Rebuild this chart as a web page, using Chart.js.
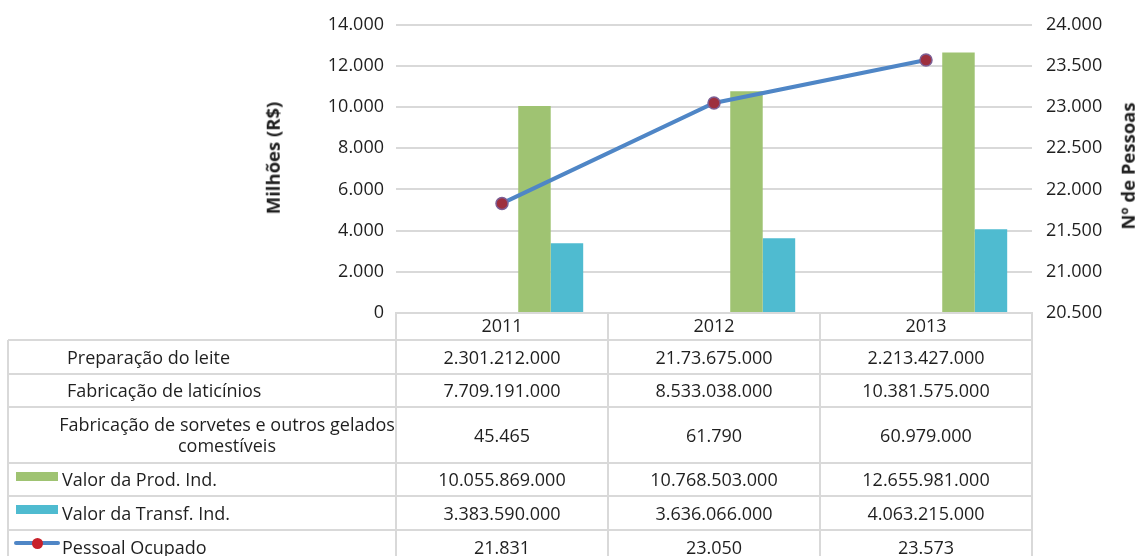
<!DOCTYPE html>
<html><head><meta charset="utf-8">
<script src="https://cdn.jsdelivr.net/npm/chart.js@4.4.0/dist/chart.umd.min.js"></script>
<style>
html,body{margin:0;padding:0;background:#fff;overflow:hidden}
#wrap{position:relative;width:1137px;height:556px;overflow:hidden;font-family:'Open Sans',sans-serif;color:#1f1f1f}
#c{position:absolute;left:0;top:0}
.hl{position:absolute;height:2px;background:#d9d9d9}
.vl{position:absolute;width:2px;background:#d9d9d9}
.cell{position:absolute;display:flex;align-items:center;justify-content:center;font-size:18px;white-space:nowrap;line-height:21px}
.lab{justify-content:flex-start}
.key{position:absolute}
.vt{position:absolute;font-size:18.5px;font-weight:bold;white-space:nowrap;transform:translate(-50%,-50%) rotate(-90deg);line-height:1}
</style>
</head><body>
<div id="wrap"><canvas id="c" width="1137" height="556"></canvas></div>
<script>
// ---- data ----
const years = ['2011', '2012', '2013'];
const prodInd = [10055.869, 10768.503, 12655.981];      // Valor da Prod. Ind. (milhões R$)
const transfInd = [3383.590, 3636.066, 4063.215];       // Valor da Transf. Ind. (milhões R$)
const pessoal = [21831, 23050, 23573];                  // Pessoal Ocupado
const prepLeite = [2301.212, 2173.675, 2213.427];       // (no visible bars)
const fabLaticinios = [7709.191, 8533.038, 10381.575];  // (no visible bars)
const fabSorvetes = [0.045465, 0.061790, 60.979];       // (no visible bars)
const prepLeiteTxt = ['2.301.212.000', '21.73.675.000', '2.213.427.000'];
const fabLaticiniosTxt = ['7.709.191.000', '8.533.038.000', '10.381.575.000'];
const fabSorvetesTxt = ['45.465', '61.790', '60.979.000'];
const prodIndTxt = ['10.055.869.000', '10.768.503.000', '12.655.981.000'];
const transfIndTxt = ['3.383.590.000', '3.636.066.000', '4.063.215.000'];
const pessoalTxt = ['21.831', '23.050', '23.573'];
const leftTitle = 'Milhões (R$)';
const rightTitle = 'Nº de Pessoas';

const GREEN = '#9fc372', CYAN = '#4fbbd0', BLUE = '#4f86c6', MRED = '#9e2f3e', MEDGE = '#7d5f95';
const GRID = '#d9d9d9', TXT = '#1f1f1f';

function fmt(v) { return String(v).replace(/\B(?=(\d{3})+(?!\d))/g, '.'); }

Chart.defaults.font.family = "'Open Sans', sans-serif";
Chart.defaults.font.size = 18;
Chart.defaults.color = TXT;

const chart = new Chart(document.getElementById('c'), {
  data: {
    labels: years,
    datasets: [
      { type: 'bar', label: 'Preparação do leite', data: prepLeite, backgroundColor: 'rgba(0,0,0,0)', yAxisID: 'y', order: 2 },
      { type: 'bar', label: 'Fabricação de laticínios', data: fabLaticinios, backgroundColor: 'rgba(0,0,0,0)', yAxisID: 'y', order: 2 },
      { type: 'bar', label: 'Fabricação de sorvetes e outros gelados comestíveis', data: fabSorvetes, backgroundColor: 'rgba(0,0,0,0)', yAxisID: 'y', order: 2 },
      { type: 'bar', label: 'Valor da Prod. Ind.', data: prodInd, backgroundColor: GREEN, yAxisID: 'y', order: 2 },
      { type: 'bar', label: 'Valor da Transf. Ind.', data: transfInd, backgroundColor: CYAN, yAxisID: 'y', order: 2 },
      { type: 'line', label: 'Pessoal Ocupado', data: pessoal, yAxisID: 'y1', order: 0,
        borderColor: BLUE, borderWidth: 4, tension: 0,
        pointRadius: 6, pointBackgroundColor: MRED, pointBorderColor: MEDGE, pointBorderWidth: 1.5 }
    ]
  },
  options: {
    responsive: false, animation: false,
    layout: { padding: { left: 0, right: 0, top: 20, bottom: 0 } },
    plugins: { legend: { display: false }, tooltip: { enabled: false } },
    datasets: { bar: { categoryPercentage: 0.766, barPercentage: 1 } },
    scales: {
      x: {
        offset: true,
        grid: { display: true, drawOnChartArea: false, drawTicks: true, tickLength: 27, color: GRID, lineWidth: 2 },
        border: { display: true, color: GRID, width: 2 },
        ticks: { padding: -24, color: TXT },
        afterFit(s) { s.height = 243; }
      },
      y: {
        position: 'left', min: 0, max: 14000,
        ticks: { stepSize: 2000, padding: 12, callback: v => fmt(v), color: TXT },
        grid: { color: GRID, lineWidth: 2, drawTicks: false },
        border: { display: false },
        afterFit(s) { s.width = 396; }
      },
      y1: {
        position: 'right', min: 20500, max: 24000,
        ticks: { stepSize: 500, padding: 14, callback: v => fmt(v), color: TXT },
        grid: { display: false, drawTicks: false },
        border: { display: false },
        afterFit(s) { s.width = 105; }
      }
    }
  }
});

// ---- data table below the chart ----
(function buildTable() {
  const wrap = document.getElementById('wrap');
  const ca = chart.chartArea;
  const cw = (ca.right - ca.left) / years.length;
  const X = [8, ca.left];
  years.forEach((_, i) => X.push(ca.left + cw * (i + 1)));
  const Y = [340, 374, 407, 463, 496, 530, 564];
  const rows = [
    { label: 'Preparação do leite', vals: prepLeiteTxt },
    { label: 'Fabricação de laticínios', vals: fabLaticiniosTxt },
    { label: 'Fabricação de sorvetes e outros gelados<br>comestíveis', vals: fabSorvetesTxt, center: true },
    { label: 'Valor da Prod. Ind.', vals: prodIndTxt, key: 'bar', color: GREEN },
    { label: 'Valor da Transf. Ind.', vals: transfIndTxt, key: 'bar', color: CYAN },
    { label: 'Pessoal Ocupado', vals: pessoalTxt, key: 'line' }
  ];
  function el(cls, css, html) {
    const d = document.createElement('div');
    d.className = cls; Object.assign(d.style, css);
    if (html !== undefined) d.innerHTML = html;
    wrap.appendChild(d); return d;
  }
  Y.forEach(y => el('hl', { left: X[0] + 'px', top: (y - 1) + 'px', width: (X[X.length - 1] - X[0] + 1) + 'px' }));
  X.forEach(x => el('vl', { left: (x - 1) + 'px', top: Y[0] + 'px', height: (Y[Y.length - 1] - Y[0]) + 'px' }));
  rows.forEach((r, ri) => {
    const top = Y[ri], h = Y[ri + 1] - Y[ri];
    if (r.center) {
      el('cell', { left: '27px', width: '400px', top: top + 'px', height: h + 'px', textAlign: 'center' }, r.label);
    } else {
      const tx = r.key ? 62 : 67;
      el('cell lab', { left: tx + 'px', width: (X[1] - tx) + 'px', top: top + 'px', height: h + 'px' }, r.label);
    }
    if (r.key === 'bar') {
      el('key', { left: '16px', width: '42px', top: (top + 9) + 'px', height: '9px', background: r.color });
    } else if (r.key === 'line') {
      el('key', { left: '14px', width: '46px', top: (top + 11) + 'px', height: '4px', background: BLUE, borderRadius: '2px' });
      el('key', { left: '32px', width: '11px', top: (top + 7.5) + 'px', height: '11px', background: '#c8202a', borderRadius: '50%' });
    }
    r.vals.forEach((v, i) => {
      el('cell', { left: X[i + 1] + 'px', width: (X[i + 2] - X[i + 1]) + 'px', top: top + 'px', height: h + 'px' }, v);
    });
  });
  // axis titles (both read bottom-to-top like the reference)
  const lt = el('vt', { left: '273px', top: '157.5px' }, leftTitle);
  const rt = el('vt', { left: '1128px', top: '166px' }, rightTitle);
})();
</script>
</body></html>
